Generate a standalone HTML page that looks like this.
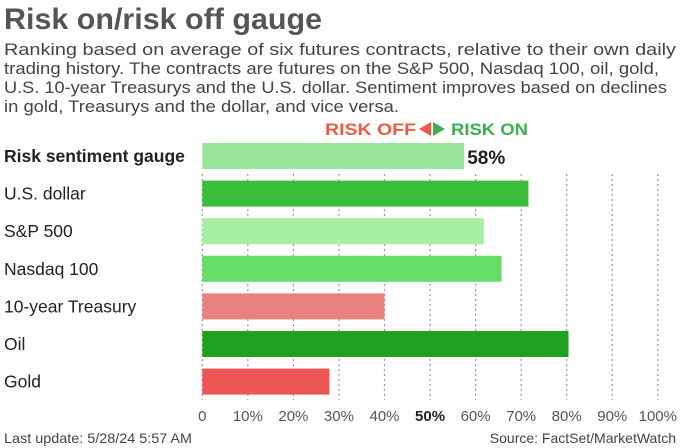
<!DOCTYPE html>
<html><head><meta charset="utf-8"><style>
html,body{margin:0;padding:0;background:#fff;}
svg{display:block;font-family:"Liberation Sans",sans-serif;}
</style></head><body>
<svg width="680" height="448" viewBox="0 0 680 448">
<text x="4" y="29" font-size="30" font-weight="bold" fill="#555" textLength="318" lengthAdjust="spacingAndGlyphs">Risk on/risk off gauge</text>
<g font-size="17" fill="#444">
<text x="4" y="55" textLength="672" lengthAdjust="spacingAndGlyphs">Ranking based on average of six futures contracts, relative to their own daily</text>
<text x="4" y="74" textLength="655" lengthAdjust="spacingAndGlyphs">trading history. The contracts are futures on the S&amp;P 500, Nasdaq 100, oil, gold,</text>
<text x="4" y="93" textLength="663" lengthAdjust="spacingAndGlyphs">U.S. 10-year Treasurys and the U.S. dollar. Sentiment improves based on declines</text>
<text x="4" y="112" textLength="395" lengthAdjust="spacingAndGlyphs">in gold, Treasurys and the dollar, and vice versa.</text>
</g>
<g font-size="17" font-weight="bold">
<text x="325" y="135" fill="#ee5a45" textLength="91" lengthAdjust="spacingAndGlyphs">RISK OFF</text>
<polygon points="419,129 431,122 431,136" fill="#ee5a45"/>
<polygon points="433,122 445,129 433,136" fill="#3daf4f"/>
<text x="451" y="135" fill="#3daf4f" textLength="77" lengthAdjust="spacingAndGlyphs">RISK ON</text>
</g>
<g id="grid"></g>
<g id="bars"></g>
<g id="labels"></g>
<g id="ticks"></g>
<text x="4" y="443" font-size="14" fill="#444" textLength="188" lengthAdjust="spacingAndGlyphs">Last update: 5/28/24 5:57 AM</text>
<text x="676" y="443" font-size="14" fill="#444" text-anchor="end">Source: FactSet/MarketWatch</text>
</svg>
<script>
const categories = ["Risk sentiment gauge","U.S. dollar","S&P 500","Nasdaq 100","10-year Treasury","Oil","Gold"];
const values = [57.5, 71.6, 61.8, 65.7, 40, 80.4, 27.9];
const colors = ["#98e49a","#3bbd3b","#a5f0a3","#66dd66","#e8827e","#1fa01f","#ee5555"];
const ticks = [0,10,20,30,40,50,60,70,80,90,100];
const tickLabels = ["0","10%","20%","30%","40%","50%","60%","70%","80%","90%","100%"];
const NS="http://www.w3.org/2000/svg";
const x = v => 202.3 + v*4.555;
const y = i => 143 + i*37.6;
const bh = 26;
function mk(tag, attrs, parent){const e=document.createElementNS(NS,tag);for(const k in attrs)e.setAttribute(k,attrs[k]);parent.appendChild(e);return e;}
const grid=document.getElementById('grid'), bars=document.getElementById('bars'), labels=document.getElementById('labels'), tk=document.getElementById('ticks');
ticks.forEach((t,i)=>{
  const l=mk('line',{x1:x(t),x2:x(t),y1:174,y2:400,stroke:"#999","stroke-width":1.2,"stroke-dasharray":"2,3"},grid);
  
  
  const tx=mk('text',{x:x(t),y:421,"font-size":15,fill:t===50?"#222":"#555","font-weight":t===50?"bold":"normal","text-anchor":"middle"},tk);
  tx.textContent=tickLabels[i];
  
  
});
categories.forEach((c,i)=>{
  const r=mk('rect',{x:x(0),y:y(i),width:x(values[i])-x(0),height:bh,fill:colors[i]},bars);
  
  
  const t=mk('text',{x:4,y:y(i)+19,"font-size":17.5,fill:"#222","font-weight":i===0?"bold":"normal"},labels);
  t.textContent=c;
  
  
});
const v=mk('text',{x:x(values[0])+3,y:y(0)+21,"font-size":19,"font-weight":"bold",fill:"#222"},labels);
v.textContent=Math.round(values[0])+"%";


</script>
</body></html>
